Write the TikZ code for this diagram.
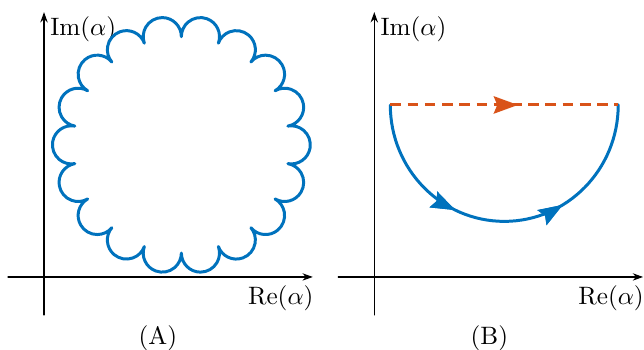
\documentclass[tikz,border=0pt,11pt]{standalone}
\usetikzlibrary{arrows.meta,calc,decorations.markings}
\definecolor{mblue}{RGB}{0,114,189}
\definecolor{morange}{RGB}{217,83,25}
\begin{document}
\begin{tikzpicture}[line join=round, line cap=round, >={Stealth[length=4.5pt,width=3.2pt]},
	axis/.style={->, line width=0.6pt},
	contour/.style={mblue, line width=1.3pt},
	midarrow/.style={postaction={decorate}, decoration={markings,
		mark=at position #1 with {\arrow{Stealth[length=10.5pt,width=7.5pt,inset=1.5pt]}}}}]
	\useasboundingbox (-0.673,-1.116) rectangle (9.174,4.235);
	\begin{scope}% (A)
		\draw[axis] (-0.55,0) -- (4.11,0);
		\draw[axis] (0,-0.58) -- (0,4.05);
		\node (imA) at (0.6,3.79) {Im$(\alpha)$};
		\node (reA) at (3.62,-0.32) {Re$(\alpha)$};
		\node (capA) at (1.74,-0.93) {(A)};
		\draw[contour] ($(2.1,2.02)+(-10:{1.68*cos(10)})$)
			\foreach \k in {0,...,17}{ arc[start angle=20*\k-100, delta angle=200, radius=0.2917] } -- cycle;
	\end{scope}
	\begin{scope}[xshift=5.05cm]% (B)
		\draw[axis] (-0.55,0) -- (4.11,0);
		\draw[axis] (0,-0.58) -- (0,4.05);
		\node (imB) at (0.6,3.79) {Im$(\alpha)$};
		\node (reB) at (3.62,-0.32) {Re$(\alpha)$};
		\node (capB) at (1.76,-0.93) {(B)};
		\coordinate (p) at (0.245,2.63);
		\coordinate (q) at (3.73,2.63);
		\draw[contour, midarrow=0.36, midarrow=0.67] (p) arc[start angle=180, end angle=360, x radius=1.7425, y radius=1.78];
		\draw[contour, morange, dash pattern=on 4.6pt off 2.9pt, line cap=butt, midarrow=0.56] (p) -- (q);
	\end{scope}
\end{tikzpicture}
\end{document}
